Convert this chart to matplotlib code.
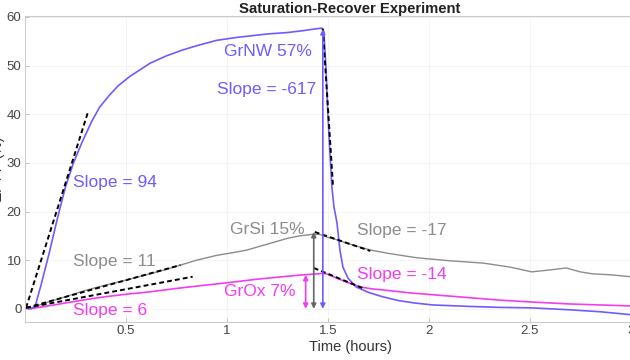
#Saturation-recover experiment: three normalized signals with fitted slopes
import numpy as np
import matplotlib.pyplot as plt

plt.rcParams['font.family'] = ['Liberation Sans', 'DejaVu Sans']

#Colours
c_nw = '#6f5cff'
c_si = '#8c8c8c'
c_ox = '#f23cf2'

#GrNW trace (time in hours, signal in %)
t_nw = [0.03, 0.05, 0.08, 0.12, 0.16, 0.20, 0.24, 0.28, 0.33, 0.37, 0.42, 0.46,
        0.52, 0.62, 0.70, 0.78, 0.86, 0.95, 1.05, 1.20, 1.30, 1.38, 1.43, 1.47,
        1.48, 1.49, 1.50, 1.51, 1.52, 1.53, 1.545, 1.56, 1.575, 1.60, 1.64, 1.70,
        1.77, 1.85, 1.93, 2.02, 2.20, 2.35, 2.51, 2.70, 2.85, 3.00, 3.20]
y_nw = [0, 0.5, 5, 11.5, 18.5, 25, 30, 34, 38.5, 41.5, 44, 45.8,
        47.8, 50.5, 52, 53.2, 54.2, 55.2, 55.8, 56.5, 56.8, 57.2, 57.5, 57.7,
        57, 50, 40, 32, 25, 21, 17.7, 12, 8.5, 6.3, 4.5, 3.4,
        2.5, 1.7, 1.2, 0.8, 0.5, 0.3, 0.2, -0.2, -0.6, -1.2, -1.8]

#GrSi trace
t_si = [0.02, 0.10, 0.20, 0.30, 0.40, 0.50, 0.60, 0.70, 0.77, 0.85, 0.95, 1.05,
        1.10, 1.20, 1.30, 1.36, 1.42, 1.46, 1.48, 1.50, 1.545, 1.60, 1.65, 1.71,
        1.80, 1.94, 2.10, 2.27, 2.40, 2.51, 2.60, 2.68, 2.75, 2.81, 2.90, 3.00,
        3.10, 3.20]
y_si = [0, 1.2, 2.5, 3.8, 4.9, 5.9, 7.0, 8.1, 9.0, 10.0, 11.0, 11.7,
        12.1, 13.3, 14.5, 15.0, 15.3, 15.3, 15.0, 14.7, 14.2, 13.4, 12.8, 12.1,
        11.4, 10.5, 9.9, 9.4, 8.6, 7.6, 8.0, 8.4, 7.6, 7.2, 7.0, 6.6,
        6.4, 6.1]

#GrOx trace
t_ox = [0.02, 0.10, 0.20, 0.30, 0.40, 0.50, 0.62, 0.75, 0.90, 1.03, 1.15, 1.25,
        1.35, 1.45, 1.48, 1.50, 1.55, 1.60, 1.66, 1.72, 1.77, 1.90, 2.02, 2.20,
        2.35, 2.51, 2.70, 2.85, 3.00, 3.20]
y_ox = [0, 0.5, 1.2, 1.9, 2.5, 3.0, 3.5, 4.2, 4.9, 5.5, 6.1, 6.5,
        6.9, 7.2, 7.3, 7.1, 6.2, 5.4, 4.5, 4.1, 3.9, 3.3, 2.9, 2.3,
        1.8, 1.4, 1.0, 0.8, 0.6, 0.4]

#Fitted slope segments (start/end points)
fit_x = [[0.005, 0.31], [0.005, 0.77], [0.005, 0.83],
         [1.475, 1.525], [1.435, 1.71], [1.43, 1.67]]
fit_y = [[0.2, 40.2], [0.2, 9.0], [0.2, 6.6],
         [57.6, 25.5], [15.8, 11.9], [8.4, 4.3]]

#Amplitude arrows (x position, top value)
arr_x = [1.39, 1.43, 1.475]
arr_top = [7.0, 15.8, 57.5]
arr_col = [c_ox, '#666666', c_nw]

fig = plt.figure(figsize=(6.3, 3.6), dpi=100)
ax = fig.add_axes([0.0397, 0.1056, 1.032, 0.85])

#Curves
ax.plot(t_si, y_si, color=c_si, lw=1)
ax.plot(t_ox, y_ox, color=c_ox, lw=1.2)
ax.plot(t_nw, y_nw, color=c_nw, lw=1.2)

#Slope fits
for fx, fy in zip(fit_x, fit_y):
    ax.plot(fx, fy, color='black', lw=1.4, dashes=(2.5, 1.6))

#Arrows
for xa, ya, ca in zip(arr_x, arr_top, arr_col):
    ax.annotate('', xy=(xa, 0.0), xytext=(xa, ya),
                arrowprops=dict(arrowstyle='<|-|>', color=ca, lw=1.2,
                                mutation_scale=7, shrinkA=0, shrinkB=0))

#Labels on the chart
fs = 12.5
ax.text(0.985, 53.0, 'GrNW 57%', color=c_nw, fontsize=fs, va='center')
ax.text(0.95, 45.0, 'Slope = -617', color=c_nw, fontsize=fs, va='center')
ax.text(0.24, 25.9, 'Slope = 94', color=c_nw, fontsize=fs, va='center')
ax.text(0.24, 9.7, 'Slope = 11', color=c_si, fontsize=fs, va='center')
ax.text(0.24, -0.3, 'Slope = 6', color=c_ox, fontsize=fs, va='center')
ax.text(1.015, 16.3, 'GrSi 15%', color=c_si, fontsize=fs, va='center')
ax.text(0.985, 3.5, 'GrOx 7%', color=c_ox, fontsize=fs, va='center')
ax.text(1.644, 16.2, 'Slope = -17', color=c_si, fontsize=fs, va='center')
ax.text(1.644, 7.0, 'Slope = -14', color=c_ox, fontsize=fs, va='center')

#Axes formatting
ax.set_xlim(0, 3.22)
ax.set_ylim(-2.7, 60.2)
ax.set_xticks([0.5, 1, 1.5, 2, 2.5, 3])
ax.set_xticklabels(['0.5', '1', '1.5', '2', '2.5', '3'])
ax.set_yticks([0, 10, 20, 30, 40, 50, 60])
ax.tick_params(direction='in', length=3, width=0.6, colors='#bbbbbb',
               labelcolor='#444444', labelsize=9.5, pad=2.5)
for s in ax.spines.values():
    s.set_color('#cccccc')
    s.set_linewidth(0.8)
ax.grid(True, color='#f2f2f2', lw=0.6)
ax.set_axisbelow(True)

ax.set_xlabel('Time (hours)', fontsize=10.5, color='#333333', labelpad=2)
ax.set_ylabel('ΔP / P (%)', fontsize=10, color='#333333')
ax.yaxis.set_label_coords(-0.031, 0.5)
ax.set_title('Saturation-Recover Experiment', fontsize=10.7, fontweight='bold',
             color='#222222', pad=2)

plt.savefig('out.png', dpi=100)
